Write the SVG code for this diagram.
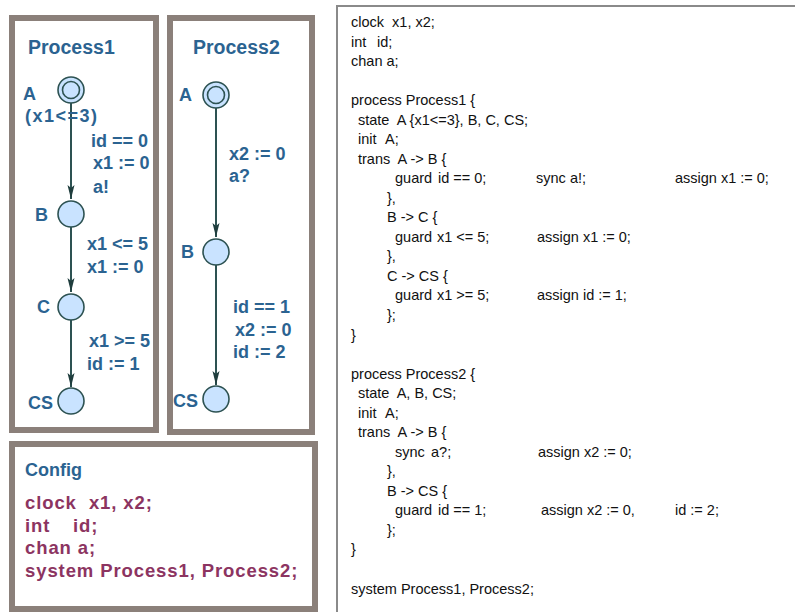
<svg xmlns="http://www.w3.org/2000/svg" width="795" height="612" viewBox="0 0 795 612">
<style>
.frame{fill:#ffffff;stroke:#8b807a;stroke-width:6}
.node{fill:#c9e3ff;stroke:#2d5252;stroke-width:1.6}
.edge{stroke:#2d5252;stroke-width:2;fill:none}
.lbl{font-family:"Liberation Sans",Arial,sans-serif;font-weight:bold;font-size:18px;fill:#2b6391}
.ttl{font-family:"Liberation Sans",Arial,sans-serif;font-weight:bold;font-size:19.5px;fill:#2b6391}
.cfg{font-family:"Liberation Sans",Arial,sans-serif;font-weight:bold;font-size:18.5px;fill:#8c3461;letter-spacing:0.9px;white-space:pre}
.code{font-family:"Liberation Sans",Arial,sans-serif;font-size:14.5px;fill:#111111;white-space:pre}
</style>
<defs>
<marker id="arr" viewBox="0 0 14 8" refX="14" refY="4" markerWidth="14" markerHeight="8" markerUnits="userSpaceOnUse" orient="auto">
<path d="M0,0.5 L14,4 L0,7.5 L3,4 z" fill="#1f3d3d"/>
</marker>
</defs>
<rect width="795" height="612" fill="#ffffff"/>

<g id="panel-process1">
<rect class="frame" x="12" y="18" width="144" height="412"/>
<text class="ttl" x="28" y="54">Process1</text>
</g>
<g id="panel-process2">
<rect class="frame" x="170" y="18" width="142" height="414"/>
<text class="ttl" x="193" y="54">Process2</text>
</g>

<g id="connectors">
<g id="e-p1-A-B">
<line class="edge" x1="71" y1="103" x2="71" y2="199" marker-end="url(#arr)"/>
<text class="lbl" x="91" y="147">id == 0</text>
<text class="lbl" x="93" y="169">x1 := 0</text>
<text class="lbl" x="93" y="193">a!</text>
</g>
<g id="e-p1-B-C">
<line class="edge" x1="71" y1="227" x2="71" y2="292" marker-end="url(#arr)"/>
<text class="lbl" x="87" y="250">x1 &lt;= 5</text>
<text class="lbl" x="87" y="273">x1 := 0</text>
</g>
<g id="e-p1-C-CS">
<line class="edge" x1="71" y1="320" x2="71" y2="387" marker-end="url(#arr)"/>
<text class="lbl" x="89" y="347">x1 &gt;= 5</text>
<text class="lbl" x="87" y="370">id := 1</text>
</g>
<g id="e-p2-A-B">
<line class="edge" x1="216" y1="108" x2="216" y2="237" marker-end="url(#arr)"/>
<text class="lbl" x="229" y="160">x2 := 0</text>
<text class="lbl" x="229" y="182">a?</text>
</g>
<g id="e-p2-B-CS">
<line class="edge" x1="216" y1="265" x2="216" y2="385" marker-end="url(#arr)"/>
<text class="lbl" x="233" y="313">id == 1</text>
<text class="lbl" x="235" y="336">x2 := 0</text>
<text class="lbl" x="233" y="358">id := 2</text>
</g>
</g>

<g id="p1-A">
<circle class="node" cx="71" cy="90" r="13"/>
<circle class="node" cx="71" cy="90" r="8.5"/>
<text class="lbl" x="23" y="100">A</text>
<text class="lbl" x="25" y="122" letter-spacing="1.5">(x1&lt;=3)</text>
</g>
<g id="p1-B">
<circle class="node" cx="71" cy="214" r="13"/>
<text class="lbl" x="35" y="221">B</text>
</g>
<g id="p1-C">
<circle class="node" cx="71" cy="307" r="13"/>
<text class="lbl" x="37" y="313">C</text>
</g>
<g id="p1-CS">
<circle class="node" cx="71" cy="401" r="13"/>
<text class="lbl" x="28" y="409">CS</text>
</g>

<g id="p2-A">
<circle class="node" cx="216" cy="95" r="13"/>
<circle class="node" cx="216" cy="95" r="8.5"/>
<text class="lbl" x="179" y="101">A</text>
</g>
<g id="p2-B">
<circle class="node" cx="216" cy="252" r="13"/>
<text class="lbl" x="181" y="258">B</text>
</g>
<g id="p2-CS">
<circle class="node" cx="216" cy="399" r="13"/>
<text class="lbl" x="173" y="407">CS</text>
</g>

<g id="panel-config">
<rect class="frame" x="12" y="444" width="303" height="165"/>
<text class="lbl" x="25" y="476">Config</text>
<text class="cfg" x="25" y="509">clock  x1, x2;</text>
<text class="cfg" x="25" y="532">int<tspan x="73">id;</tspan></text>
<text class="cfg" x="25" y="554">chan a;</text>
<text class="cfg" x="25" y="577">system Process1, Process2;</text>
</g>

<g id="code-panel">
<rect x="337" y="6" width="470" height="620" fill="#ffffff" stroke="#8a8a8a" stroke-width="2"/>
<text class="code" x="351" y="27">clock  x1, x2;</text>
<text class="code" x="351" y="46.5">int<tspan x="377">id;</tspan></text>
<text class="code" x="351" y="66">chan a;</text>
<text class="code" x="351" y="105">process Process1 {</text>
<text class="code" x="358" y="124.5">state  A {x1&lt;=3}, B, C, CS;</text>
<text class="code" x="358" y="144">init<tspan x="385">A;</tspan></text>
<text class="code" x="358" y="163.5">trans  A -&gt; B {</text>
<text class="code" x="395" y="183">guard<tspan x="438">id == 0;</tspan><tspan x="536">sync</tspan><tspan x="570">a!;</tspan><tspan x="675">assign x1 := 0;</tspan></text>
<text class="code" x="387" y="202.5">},</text>
<text class="code" x="387" y="222">B -&gt; C {</text>
<text class="code" x="395" y="241.5">guard<tspan x="437">x1 &lt;= 5;</tspan><tspan x="537">assign x1 := 0;</tspan></text>
<text class="code" x="387" y="261">},</text>
<text class="code" x="387" y="280.5">C -&gt; CS {</text>
<text class="code" x="395" y="300">guard<tspan x="437">x1 &gt;= 5;</tspan><tspan x="537">assign id := 1;</tspan></text>
<text class="code" x="387" y="320">};</text>
<text class="code" x="351" y="339.5">}</text>
<text class="code" x="351" y="378.5">process Process2 {</text>
<text class="code" x="358" y="398">state  A, B, CS;</text>
<text class="code" x="358" y="417.5">init<tspan x="385">A;</tspan></text>
<text class="code" x="358" y="437">trans  A -&gt; B {</text>
<text class="code" x="395" y="456.5">sync<tspan x="431">a?;</tspan><tspan x="538">assign x2 := 0;</tspan></text>
<text class="code" x="387" y="476">},</text>
<text class="code" x="387" y="495.5">B -&gt; CS {</text>
<text class="code" x="395" y="515">guard<tspan x="438">id == 1;</tspan><tspan x="541">assign x2 := 0,</tspan><tspan x="675">id := 2;</tspan></text>
<text class="code" x="387" y="534.5">};</text>
<text class="code" x="351" y="554">}</text>
<text class="code" x="351" y="593.5">system Process1, Process2;</text>
</g>
</svg>
